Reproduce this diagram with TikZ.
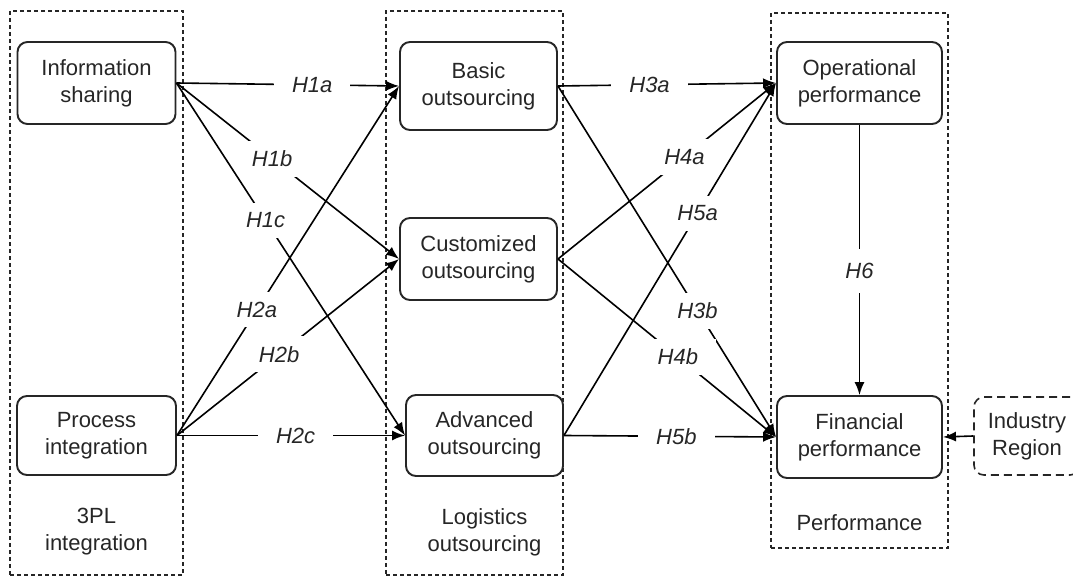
\documentclass[tikz,border=0pt]{standalone}
\usepackage{fontspec}
\setmainfont{Liberation Sans}
\usetikzlibrary{arrows.meta}
\definecolor{ink}{HTML}{262626}
\begin{document}
\begin{tikzpicture}[x=0.5pt,y=-0.5pt,
  txt/.style={text=ink, font=\fontsize{11}{13.5}\selectfont, align=center},
  box/.style={txt, draw=ink, line width=0.95pt, rounded corners=5pt, inner sep=0pt},
  groupbox/.style={draw=ink, dash pattern=on 2pt off 1.5pt, line width=0.75pt, inner sep=0pt},
  ctrlbox/.style={box, line width=0.8pt, dash pattern=on 4pt off 2.5pt},
  grouptitle/.style={txt, inner sep=0pt},
  hyp/.style={-{Latex[length=6.5pt,width=5pt]}, line width=0.8pt, draw=black},
  hlabel/.style={fill=white, text=ink, font=\fontsize{11}{13}\selectfont\itshape, inner xsep=9pt, inner ysep=5pt}
]
\useasboundingbox (0,0) rectangle (1073,577);
\clip (0,0) rectangle (1073,577);

% construct groups
\node[groupbox, minimum width=86.5pt, minimum height=282pt] (gint) at (96.5,293) {};
\node[groupbox, minimum width=88.5pt, minimum height=282pt] (gout) at (474.5,293) {};
\node[groupbox, minimum width=88.5pt, minimum height=267.5pt] (gperf) at (859.5,280.5) {};

\node[grouptitle] (tint) at (96.5,532) {3PL\\integration};
\node[grouptitle] (tout) at (484.5,532) {Logistics\\outsourcing};
\node[grouptitle] (tperf) at (859.5,523) {Performance};

% constructs
\node[box, minimum width=79pt, minimum height=41pt] (info) at (96.5,83) {Information\\sharing};
\node[box, minimum width=79.5pt, minimum height=39.5pt] (proc) at (96.5,435.5) {Process\\integration};
\node[box, minimum width=78.5pt, minimum height=44pt] (basic) at (478.5,86) {Basic\\outsourcing};
\node[box, minimum width=78.5pt, minimum height=41pt] (cust) at (478.5,259) {Customized\\outsourcing};
\node[box, minimum width=78.5pt, minimum height=40.5pt] (adv) at (484.5,435.5) {Advanced\\outsourcing};
\node[box, minimum width=82.5pt, minimum height=41pt] (oper) at (859.5,83) {Operational\\performance};
\node[box, minimum width=82.5pt, minimum height=41pt] (fin) at (859.5,437) {Financial\\performance};
\node[ctrlbox, minimum width=53pt, minimum height=39pt] (ind) at (1027,436) {Industry\\Region};

% hypotheses
\draw[hyp] (info.east) -- node[hlabel, pos=0.61] (h1a) {H1a} (basic.west);
\draw[hyp] (info.east) -- node[hlabel, pos=0.43] (h1b) {H1b} (cust.west);
\draw[hyp] (info.east) -- node[hlabel, pos=0.39] (h1c) {H1c} (adv.west);
\draw[hyp] (proc.east) -- node[hlabel, pos=0.36] (h2a) {H2a} (basic.west);
\draw[hyp] (proc.east) -- node[hlabel, pos=0.46] (h2b) {H2b} (cust.west);
\draw[hyp] (proc.east) -- node[hlabel, pos=0.52] (h2c) {H2c} (adv.west);
\draw[hyp] (basic.east) -- node[hlabel, pos=0.42] (h3a) {H3a} (oper.west);
\draw[hyp] (basic.east) -- node[hlabel, pos=0.64] (h3b) {H3b} (fin.west);
\draw[hyp] (cust.east) -- node[hlabel, pos=0.58] (h4a) {H4a} (oper.west);
\draw[hyp] (cust.east) -- node[hlabel, pos=0.55] (h4b) {H4b} (fin.west);
\draw[hyp] (adv.east) -- node[hlabel, pos=0.63] (h5a) {H5a} (oper.west);
\draw[hyp] (adv.east) -- node[hlabel, pos=0.53] (h5b) {H5b} (fin.west);
\draw[hyp] (oper.south) -- node[hlabel, pos=0.54, inner ysep=7pt] (h6) {H6} (fin.north);
\draw[hyp] (ind.west) -- (fin.east);
\end{tikzpicture}
\end{document}
